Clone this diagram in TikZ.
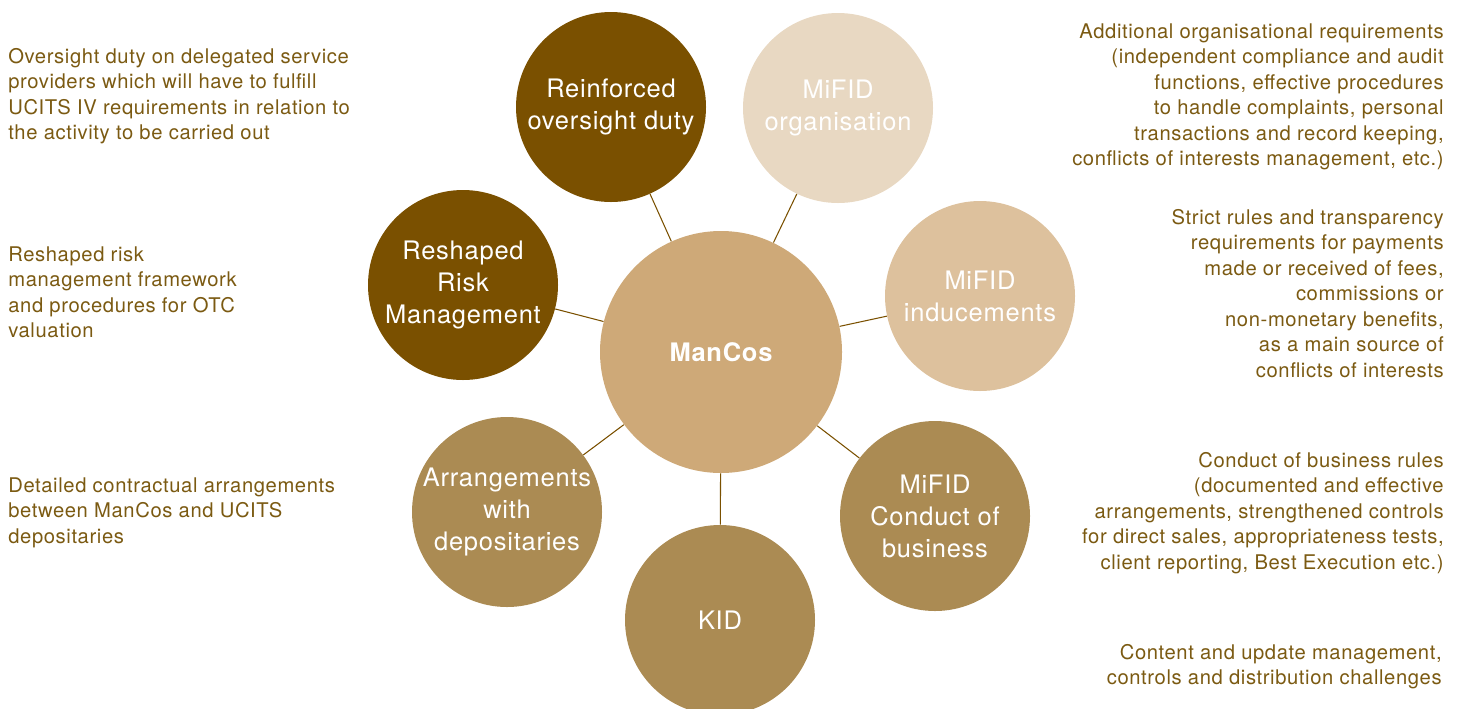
\documentclass[tikz,border=0pt]{standalone}
\usepackage{fontspec}
\setmainfont{TeX Gyre Heros}
\newfontfamily\widefont[LetterSpace=3]{TeX Gyre Heros}
\usetikzlibrary{positioning}

\definecolor{darkbrown}{HTML}{7A5000}
\definecolor{midbrown}{HTML}{AB8B53}
\definecolor{sand}{HTML}{CEA978}
\definecolor{lightsand}{HTML}{DDC19D}
\definecolor{paleSand}{HTML}{E8D8C2}
\definecolor{notecolor}{HTML}{7B5A12}

\tikzstyle{bubble} = [circle, inner sep=0pt, minimum size=3.8cm, text=white, align=center,
  font=\widefont\fontsize{14.5}{18.2}\selectfont]
\tikzstyle{link} = [darkbrown, line width=0.6pt]
\tikzstyle{note} = [inner sep=0pt, text=notecolor, font=\widefont\fontsize{11.5}{14.5}\selectfont]

\begin{document}
\begin{tikzpicture}

\useasboundingbox (0,0) rectangle (29.24,-14.16);

% the hub and its satellites
\node[bubble, fill=sand, minimum size=4.84cm, font=\widefont\fontsize{14.5}{18.2}\selectfont\bfseries] (mancos) at (14.42,-7.04) {ManCos};
\node[bubble, fill=darkbrown] (reinforced) at (12.22,-2.14) {Reinforced\\oversight duty};
\node[bubble, fill=paleSand] (mifidorg) at (16.76,-2.16) {MiFID\\organisation};
\node[bubble, fill=lightsand] (inducements) at (19.60,-5.92) {MiFID\\inducements};
\node[bubble, fill=midbrown] (conduct) at (18.70,-10.32) {MiFID\\Conduct of\\business};
\node[bubble, fill=midbrown] (kid) at (14.40,-12.40) {KID};
\node[bubble, fill=midbrown] (depositaries) at (10.14,-10.24) {Arrangements\\with\\depositaries};
\node[bubble, fill=darkbrown] (reshaped) at (9.26,-5.70) {Reshaped\\Risk\\Management};

\foreach \sat in {reinforced,mifidorg,inducements,conduct,kid,depositaries,reshaped}
  \draw[link] (mancos) -- (\sat);

% notes on the left
\node[note, anchor=north west, align=left] (reinforcedtxt) at (0.16,-0.96)
  {Oversight duty on delegated service\\providers which will have to fulfill\\UCITS IV requirements in relation to\\the activity to be carried out};
\node[note, anchor=north west, align=left] (reshapedtxt) at (0.16,-4.92)
  {Reshaped risk\\management framework\\and procedures for OTC\\valuation};
\node[note, anchor=north west, align=left] (depositariestxt) at (0.16,-9.54)
  {Detailed contractual arrangements\\between ManCos and UCITS\\depositaries};

% notes on the right
\node[note, anchor=north east, align=right] (mifidorgtxt) at (28.88,-0.46)
  {Additional organisational requirements\\(independent compliance and audit\\functions, effective procedures\\to handle complaints, personal\\transactions and record keeping,\\conflicts of interests management, etc.)};
\node[note, anchor=north east, align=right] (inducementstxt) at (28.88,-4.18)
  {Strict rules and transparency\\requirements for payments\\made or received of fees,\\commissions or\\non-monetary benefits,\\as a main source of\\conflicts of interests};
\node[note, anchor=north east, align=right] (conducttxt) at (28.88,-9.04)
  {Conduct of business rules\\(documented and effective\\arrangements, strengthened controls\\for direct sales, appropriateness tests,\\client reporting, Best Execution etc.)};
\node[note, anchor=north east, align=right] (kidtxt) at (28.84,-12.88)
  {Content and update management,\\controls and distribution challenges};

\end{tikzpicture}
\end{document}
